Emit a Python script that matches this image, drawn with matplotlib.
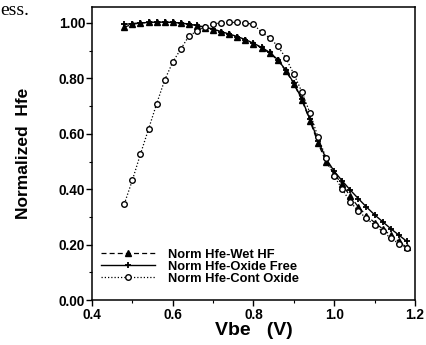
import matplotlib
matplotlib.use("Agg")
import matplotlib.pyplot as plt
from matplotlib.ticker import MultipleLocator

plt.rcParams["font.family"] = "Liberation Sans"
plt.rcParams["font.weight"] = "bold"

# Vbe sweep (V)
vbe = [0.48, 0.50, 0.52, 0.54, 0.56, 0.58, 0.60, 0.62, 0.64, 0.66, 0.68, 0.70,
       0.72, 0.74, 0.76, 0.78, 0.80, 0.82, 0.84, 0.86, 0.88, 0.90, 0.92, 0.94,
       0.96, 0.98, 1.00, 1.02, 1.04, 1.06, 1.08, 1.10, 1.12, 1.14, 1.16, 1.18]

# normalized Hfe for each surface treatment
wet_hf = [0.985, 0.995, 1.000, 1.002, 1.003, 1.003, 1.002, 1.000, 0.995, 0.990, 0.983, 0.976,
          0.967, 0.959, 0.950, 0.939, 0.925, 0.910, 0.892, 0.866, 0.828, 0.780, 0.722, 0.647,
          0.567, 0.498, 0.455, 0.418, 0.374, 0.336, 0.305, 0.280, 0.257, 0.234, 0.212, 0.190]
oxide_free = [0.995, 0.998, 1.000, 1.002, 1.003, 1.003, 1.002, 1.000, 0.996, 0.991, 0.985, 0.978,
              0.969, 0.960, 0.951, 0.940, 0.927, 0.912, 0.894, 0.868, 0.830, 0.783, 0.725, 0.652,
              0.575, 0.510, 0.465, 0.430, 0.397, 0.366, 0.336, 0.308, 0.283, 0.258, 0.235, 0.212]
cont_oxide = [0.347, 0.433, 0.527, 0.617, 0.708, 0.794, 0.859, 0.906, 0.953, 0.971, 0.986, 0.997,
              1.000, 1.002, 1.002, 1.000, 0.995, 0.967, 0.946, 0.917, 0.874, 0.816, 0.751, 0.675,
              0.588, 0.513, 0.448, 0.400, 0.354, 0.321, 0.295, 0.270, 0.248, 0.224, 0.204, 0.188]

fig = plt.figure(figsize=(4.26, 3.45), dpi=100)
ax = fig.add_axes([0.216, 0.130, 0.758, 0.850])

ax.plot(vbe, wet_hf, color="black", linestyle=(0, (4, 2.5)), linewidth=0.9,
        marker="^", markersize=4, markerfacecolor="black", label="Norm Hfe-Wet HF")
ax.plot(vbe, oxide_free, color="black", linestyle="-", linewidth=1.0,
        marker="+", markersize=5, markeredgewidth=1.3, label="Norm Hfe-Oxide Free")
ax.plot(vbe, cont_oxide, color="black", linestyle=(0, (1, 1.6)), linewidth=0.9,
        marker="o", markersize=4, markerfacecolor="white", markeredgewidth=1.0,
        label="Norm Hfe-Cont Oxide")

ax.set_xlim(0.4, 1.2)
ax.set_ylim(0.0, 1.058)
ax.xaxis.set_major_locator(MultipleLocator(0.2))
ax.xaxis.set_minor_locator(MultipleLocator(0.1))
ax.yaxis.set_major_locator(MultipleLocator(0.2))
ax.yaxis.set_minor_locator(MultipleLocator(0.1))
ax.xaxis.set_major_formatter(plt.FormatStrFormatter("%.1f"))
ax.yaxis.set_major_formatter(plt.FormatStrFormatter("%.2f"))
ax.tick_params(which="major", direction="out", length=4, width=1.0)
ax.tick_params(which="minor", direction="out", length=2, width=0.8)
ax.tick_params(axis="x", labelsize=9.8, pad=2)
ax.tick_params(axis="y", labelsize=9.8, pad=1)
for s in ax.spines.values():
    s.set_linewidth(1.1)

ax.set_xlabel("Vbe   (V)", fontsize=14, fontweight="bold", labelpad=0)
ax.set_ylabel("Normalized  Hfe", fontsize=12.5, fontweight="bold", labelpad=20)

ax.legend(loc="lower left", bbox_to_anchor=(0.0, 0.022), frameon=False, fontsize=9.3,
          numpoints=1, handlelength=4.2, handletextpad=1.0, labelspacing=0.0,
          borderpad=0.2)

fig.text(0.0, 0.995, "ess.", fontsize=14, family="Liberation Serif",
         fontweight="normal", va="top")

fig.savefig("out.png", dpi=100)
